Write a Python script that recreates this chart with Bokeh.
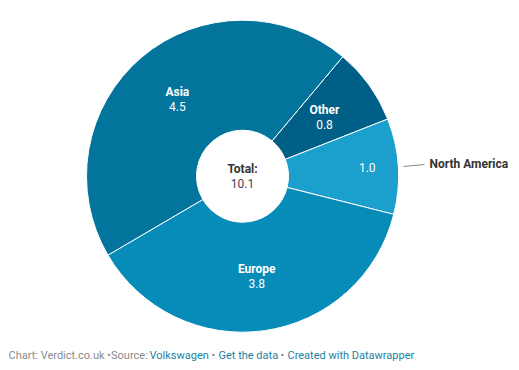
import math
from bokeh.plotting import figure
from bokeh.models import Range1d
from bokeh.core.properties import value
from bokeh.embed import file_html
from bokeh.resources import INLINE

# data (clockwise order starting at the Asia/Other boundary)
regions = ["Other", "North America", "Europe", "Asia"]
values = [0.8, 1.0, 3.8, 4.5]
colors = ["#005f86", "#1ba0cd", "#078bb8", "#03749c"]
total = 10.1
start_deg = 40.0  # clockwise from north

W, H = 511, 362
def X(px): return px
def Y(py): return H - py

p = figure(width=W, height=H, output_backend="svg", toolbar_location=None,
           x_range=Range1d(0, W), y_range=Range1d(0, H), min_border=0)
p.axis.visible = False
p.grid.visible = False
p.outline_line_color = None
p.background_fill_color = "white"

cx, cy = 242, 175.7
R, r = 156, 46
s = sum(values)
theta = start_deg
starts, ends, mids = [], [], []
for v in values:
    span = v / s * 360
    t1, t2 = theta, theta + span
    starts.append(math.radians(90 - t2))
    ends.append(math.radians(90 - t1))
    mids.append((t1 + t2) / 2)
    theta = t2

p.annular_wedge(x=[X(cx)] * 4, y=[Y(cy)] * 4, inner_radius=r, outer_radius=R,
                start_angle=starts, end_angle=ends, direction="anticlock",
                fill_color=colors, line_color="white", line_width=1)

font = value("Roboto")
def pos(theta_deg, rad):
    a = math.radians(theta_deg)
    return cx + rad * math.sin(a), cy - rad * math.cos(a)

for name, v, m in zip(regions, values, mids):
    if name == "North America":
        px, py = pos(m, 125)
        p.text(x=[X(px)], y=[Y(py - 1)], text=[f"{v:.1f}"], text_font=font,
               text_font_size="12px", text_color="white",
               text_align="center", text_baseline="middle")
        p.text(x=[X(429)], y=[Y(163)], text=[name], text_font=font,
               text_font_size="12px", text_font_style="bold", text_color="#333333",
               text_align="left", text_baseline="middle")
        p.line(x=[X(403), X(424)], y=[Y(166), Y(164)], line_color="#888888", line_width=1)
    else:
        px, py = pos(m, 101)
        p.text(x=[X(px)], y=[Y(py - 7)], text=[name], text_font=font,
               text_font_size="12px", text_font_style="bold", text_color="white",
               text_align="center", text_baseline="middle")
        p.text(x=[X(px)], y=[Y(py + 7)], text=[f"{v:.1f}"], text_font=font,
               text_font_size="12px", text_color="white",
               text_align="center", text_baseline="middle")

p.text(x=[X(cx)], y=[Y(cy - 7)], text=["Total:"], text_font=font, text_font_size="12px",
       text_font_style="bold", text_color="#333333", text_align="center", text_baseline="middle")
p.text(x=[X(cx)], y=[Y(cy + 7)], text=[f"{total:.1f}"], text_font=font, text_font_size="12px",
       text_color="#4a3b55", text_align="center", text_baseline="middle")

# footer
footer = [("Chart: Verdict.co.uk •Source: ", 8, "#8a8a8a"),
          ("Volkswagen", 149, "#1d81a2"),
          ("•", 211, "#8a8a8a"),
          ("Get the data", 218, "#1d81a2"),
          ("•", 280, "#8a8a8a"),
          ("Created with Datawrapper", 287, "#1d81a2")]
for t, fx, c in footer:
    p.text(x=[X(fx)], y=[Y(355)], text=[t], text_font=font, text_font_size="11px",
           text_color=c, text_align="left", text_baseline="middle")

open("out.html", "w").write(file_html(p, INLINE))
